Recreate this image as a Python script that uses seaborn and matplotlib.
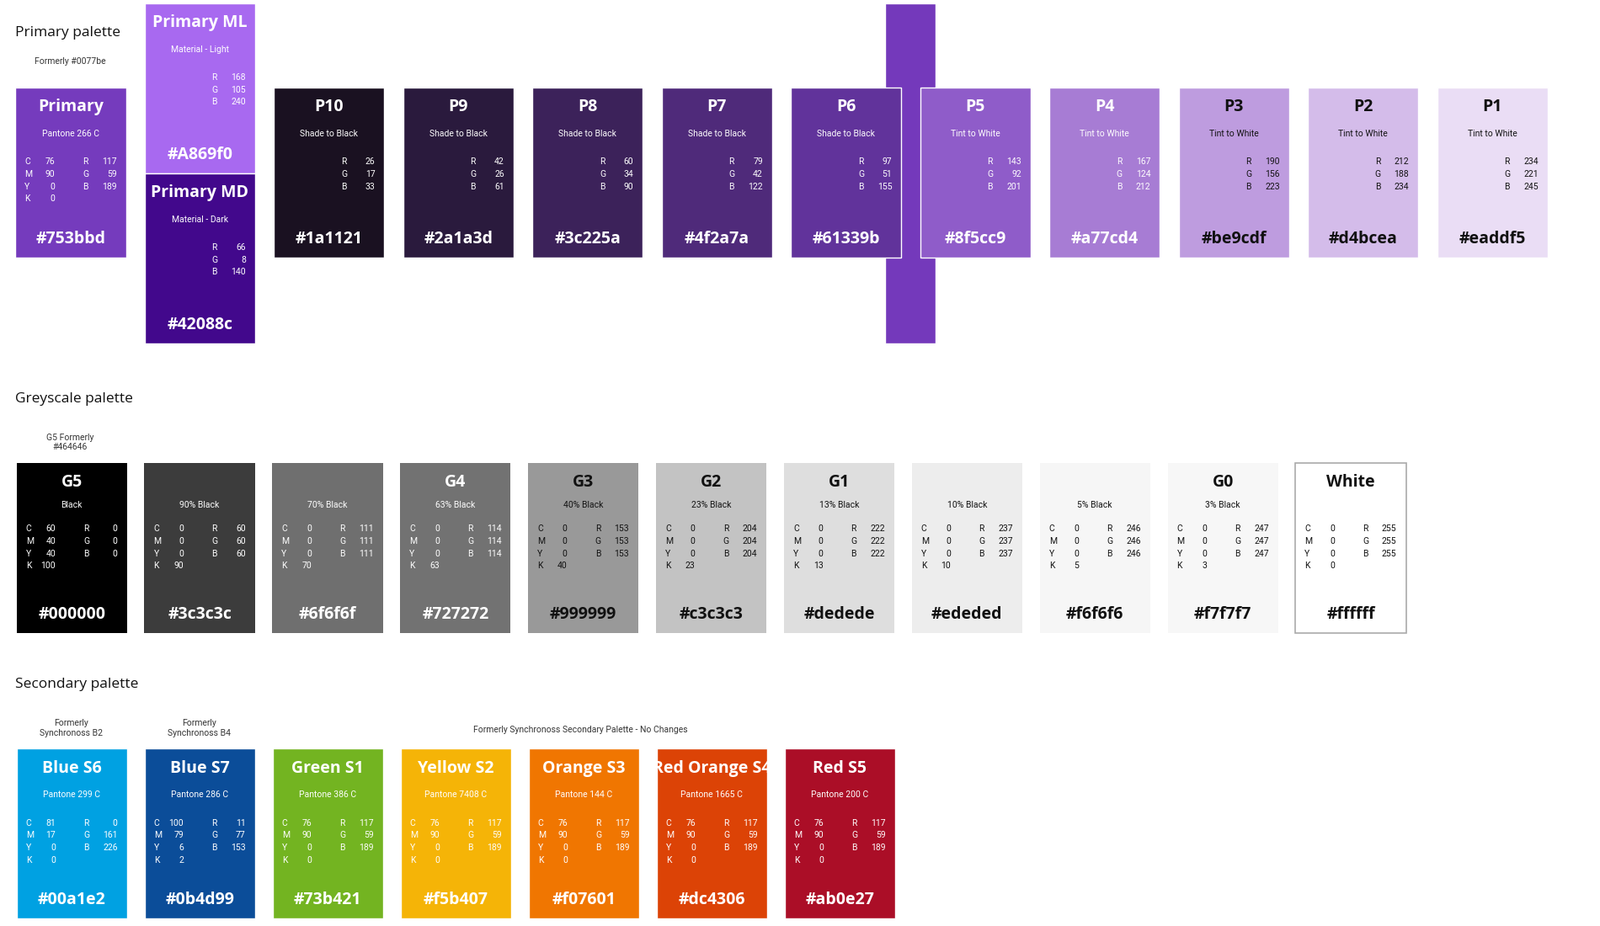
import matplotlib
matplotlib.use("Agg")
import matplotlib.pyplot as plt
import seaborn as sns

sns.set_theme(style="white")

# ---- data ----
primary_names = ["Primary", "P10", "P9", "P8", "P7", "P6", "P5", "P4", "P3", "P2", "P1"]
primary_subs = ["Pantone 266 C"] + ["Shade to Black"] * 5 + ["Tint to White"] * 5
primary_hex = ["#753bbd", "#1a1121", "#2a1a3d", "#3c225a", "#4f2a7a", "#61339b",
               "#8f5cc9", "#a77cd4", "#be9cdf", "#d4bcea", "#eaddf5"]
primary_rgb = [(117, 59, 189), (26, 17, 33), (42, 26, 61), (60, 34, 90), (79, 42, 122),
               (97, 51, 155), (143, 92, 201), (167, 124, 212), (190, 156, 223),
               (212, 188, 234), (234, 221, 245)]
primary_slot = [0, 2, 3, 4, 5, 6, 7, 8, 9, 10, 11]

material_names = ["Primary ML", "Primary MD"]
material_subs = ["Material - Light", "Material - Dark"]
material_hex = ["#A869f0", "#42088c"]
material_rgb = [(168, 105, 240), (66, 8, 140)]

grey_names = ["G5", "", "", "G4", "G3", "G2", "G1", "", "", "G0", "White"]
grey_subs = ["Black", "90% Black", "70% Black", "63% Black", "40% Black", "23% Black",
             "13% Black", "10% Black", "5% Black", "3% Black", ""]
grey_hex = ["#000000", "#3c3c3c", "#6f6f6f", "#727272", "#999999", "#c3c3c3",
            "#dedede", "#ededed", "#f6f6f6", "#f7f7f7", "#ffffff"]
grey_cmyk = [(60, 40, 40, 100), (0, 0, 0, 90), (0, 0, 0, 70), (0, 0, 0, 63), (0, 0, 0, 40),
             (0, 0, 0, 23), (0, 0, 0, 13), (0, 0, 0, 10), (0, 0, 0, 5), (0, 0, 0, 3), (0, 0, 0, 0)]
grey_rgb = [(0, 0, 0), (60, 60, 60), (111, 111, 111), (114, 114, 114), (153, 153, 153),
            (204, 204, 204), (222, 222, 222), (237, 237, 237), (246, 246, 246),
            (247, 247, 247), (255, 255, 255)]

sec_names = ["Blue S6", "Blue S7", "Green S1", "Yellow S2", "Orange S3", "Red Orange S4", "Red S5"]
sec_pantone = ["Pantone 299 C", "Pantone 286 C", "Pantone 386 C", "Pantone 7408 C",
               "Pantone 144 C", "Pantone 1665 C", "Pantone 200 C"]
sec_hex = ["#00a1e2", "#0b4d99", "#73b421", "#f5b407", "#f07601", "#dc4306", "#ab0e27"]
sec_cmyk = [(81, 17, 0, 0), (100, 79, 6, 2)] + [(76, 90, 0, 0)] * 5
sec_rgb = [(0, 161, 226), (11, 77, 153)] + [(117, 59, 189)] * 5

# ---- layout (canvas units, y downwards) ----
W, H = 1550, 898
BW, BH = 107, 165
STEP = 125.2
X0 = 15

fig = plt.figure(figsize=(19, 11), dpi=100)
ax = fig.add_axes([0, 0, 1, 1])
ax.set_xlim(0, W)
ax.set_ylim(H, 0)
ax.axis("off")

BOLD = "Open Sans"
SMALL = "Roboto"


def ink(hexcol):
    r, g, b = [int(hexcol[i:i + 2], 16) for i in (1, 3, 5)]
    return "white" if (0.299 * r + 0.587 * g + 0.114 * b) < 150 else "#111111"


def box_text(x, top, name, sub, hexcol, cmyk, rgb, col, name_dy=19, sub_dy=45,
             row_dy=72, hex_dy=147, rgb_only=False):
    cx = x + BW / 2
    if name:
        ax.text(cx, top + name_dy, name, ha="center", va="center", color=col,
                fontsize=14, fontweight="bold", family=BOLD)
    if sub:
        ax.text(cx, top + sub_dy, sub, ha="center", va="center", color=col,
                fontsize=7.5, family=SMALL)
    for i, lab in enumerate("RGB"):
        ax.text(x + 65, top + row_dy + i * 12, lab, ha="left", va="center",
                color=col, fontsize=7.5, family=SMALL)
        ax.text(x + 98, top + row_dy + i * 12, str(rgb[i]), ha="right", va="center",
                color=col, fontsize=7.5, family=SMALL)
    if cmyk is not None:
        for i, lab in enumerate("CMYK"):
            ax.text(x + 9, top + row_dy + i * 12, lab, ha="left", va="center",
                    color=col, fontsize=7.5, family=SMALL)
            ax.text(x + 38, top + row_dy + i * 12, str(cmyk[i]), ha="right", va="center",
                    color=col, fontsize=7.5, family=SMALL)
    ax.text(cx, top + hex_dy, hexcol, ha="center", va="center", color=col,
            fontsize=14, fontweight="bold", family=BOLD)


# section labels
ax.text(15, 32, "Primary palette", fontsize=12.5, va="center", family=BOLD, color="#111111")
ax.text(15, 387, "Greyscale palette", fontsize=12.5, va="center", family=BOLD, color="#111111")
ax.text(15, 664, "Secondary palette", fontsize=12.5, va="center", family=BOLD, color="#111111")
ax.text(68, 60, "Formerly #0077be", fontsize=7.5, ha="center", va="center", family=SMALL, color="#333333")
ax.text(68, 429, "G5 Formerly\n#464646", fontsize=7.5, ha="center", va="center", family=SMALL, color="#333333")
ax.text(69, 706, "Formerly\nSynchronoss B2", fontsize=7.5, ha="center", va="center", family=SMALL, color="#333333")
ax.text(193, 706, "Formerly\nSynchronoss B4", fontsize=7.5, ha="center", va="center", family=SMALL, color="#333333")
ax.text(562, 708, "Formerly Synchronoss Secondary Palette - No Changes", fontsize=7.5,
        ha="center", va="center", family=SMALL, color="#333333")

# tall accent bar behind P6/P5
ax.bar([881.5], [330], bottom=[3], width=49, color="#7439bb", zorder=1)

# primary row
ptop = 85
px = [X0 + s * STEP for s in primary_slot]
ax.bar([x + BW / 2 for x in px], [BH] * len(px), bottom=[ptop] * len(px), width=BW,
       color=primary_hex, zorder=2)
for x, n, s, h, rgb in zip(px, primary_names, primary_subs, primary_hex, primary_rgb):
    cmyk = (76, 90, 0, 0) if n == "Primary" else None
    box_text(x, ptop, n, s, h, cmyk, rgb, ink(h))

# material column
mx = X0 + STEP
mtops = [3, 168]
ax.bar([mx + BW / 2] * 2, [BH] * 2, bottom=mtops, width=BW, color=material_hex, zorder=2)
for t, n, s, h, rgb in zip(mtops, material_names, material_subs, material_hex, material_rgb):
    box_text(mx, t, n, s, h, None, rgb, ink(h))

# greyscale row
gtop = 449
gx = [16 + i * 123.9 for i in range(len(grey_hex))]
ax.bar([x + BW / 2 for x in gx], [BH] * len(gx), bottom=[gtop] * len(gx), width=BW,
       color=grey_hex, edgecolor=["none"] * 10 + ["#aaaaaa"], linewidth=1.2, zorder=2)
for x, n, s, h, c, rgb in zip(gx, grey_names, grey_subs, grey_hex, grey_cmyk, grey_rgb):
    box_text(x, gtop, n, s, h, c, rgb, ink(h), name_dy=19, sub_dy=41, row_dy=64, hex_dy=147)

# secondary row
stop = 726
sx = [16 + i * 124 for i in range(len(sec_hex))]
ax.bar([x + BW / 2 for x in sx], [BH] * len(sx), bottom=[stop] * len(sx), width=BW,
       color=sec_hex, zorder=2)
for x, n, s, h, c, rgb in zip(sx, sec_names, sec_pantone, sec_hex, sec_cmyk, sec_rgb):
    box_text(x, stop, n, s, h, c, rgb, "white", name_dy=19, sub_dy=45, row_dy=72, hex_dy=147)

fig.savefig("out.png", dpi=100, facecolor="white")
